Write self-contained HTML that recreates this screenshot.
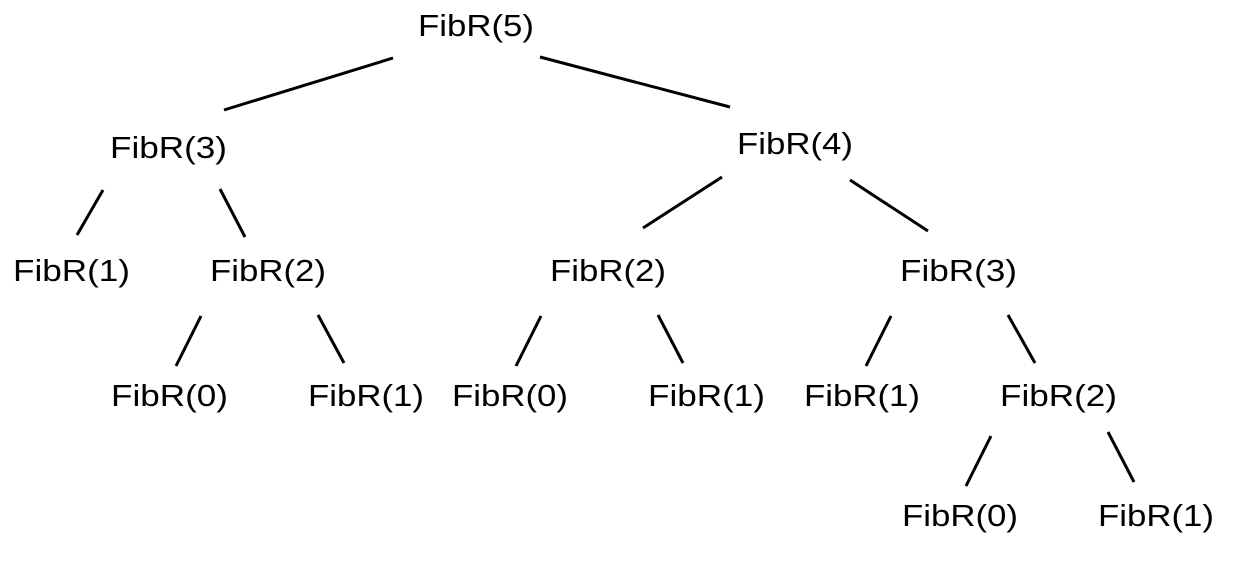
<!DOCTYPE html>
<html><head><meta charset="utf-8"><style>html,body{margin:0;padding:0;background:#fff;}</style></head>
<body>
<svg width="1238" height="559" xmlns="http://www.w3.org/2000/svg">
<g stroke="#000" stroke-width="3" stroke-linecap="butt">
<line x1="393" y1="58" x2="224" y2="110"/>
<line x1="540" y1="57" x2="730" y2="107"/>
<line x1="103" y1="190" x2="77" y2="235"/>
<line x1="220" y1="189" x2="245" y2="237"/>
<line x1="722" y1="177" x2="643" y2="228"/>
<line x1="850" y1="180" x2="928" y2="231"/>
<line x1="201" y1="316" x2="176" y2="366"/>
<line x1="318" y1="315" x2="344" y2="363"/>
<line x1="541" y1="316" x2="516" y2="366"/>
<line x1="658" y1="315" x2="683" y2="363"/>
<line x1="891" y1="316" x2="866" y2="366"/>
<line x1="1008" y1="315" x2="1035" y2="363"/>
<line x1="991" y1="436" x2="966" y2="486"/>
<line x1="1108" y1="432" x2="1134" y2="482"/>
</g>
<g font-family="Liberation Sans, sans-serif" font-size="31" fill="#000">
<text x="418" y="36" textLength="116" lengthAdjust="spacingAndGlyphs">FibR(5)</text>
<text x="110" y="158" textLength="117" lengthAdjust="spacingAndGlyphs">FibR(3)</text>
<text x="737" y="154" textLength="116" lengthAdjust="spacingAndGlyphs">FibR(4)</text>
<text x="13" y="281" textLength="117" lengthAdjust="spacingAndGlyphs">FibR(1)</text>
<text x="210" y="281" textLength="116" lengthAdjust="spacingAndGlyphs">FibR(2)</text>
<text x="550" y="281" textLength="116" lengthAdjust="spacingAndGlyphs">FibR(2)</text>
<text x="900" y="281" textLength="117" lengthAdjust="spacingAndGlyphs">FibR(3)</text>
<text x="111" y="406" textLength="117" lengthAdjust="spacingAndGlyphs">FibR(0)</text>
<text x="308" y="406" textLength="116" lengthAdjust="spacingAndGlyphs">FibR(1)</text>
<text x="452" y="406" textLength="116" lengthAdjust="spacingAndGlyphs">FibR(0)</text>
<text x="648" y="406" textLength="117" lengthAdjust="spacingAndGlyphs">FibR(1)</text>
<text x="804" y="406" textLength="116" lengthAdjust="spacingAndGlyphs">FibR(1)</text>
<text x="1000" y="406" textLength="117" lengthAdjust="spacingAndGlyphs">FibR(2)</text>
<text x="902" y="526" textLength="116" lengthAdjust="spacingAndGlyphs">FibR(0)</text>
<text x="1098" y="526" textLength="116" lengthAdjust="spacingAndGlyphs">FibR(1)</text>
</g>
</svg>
</body></html>
